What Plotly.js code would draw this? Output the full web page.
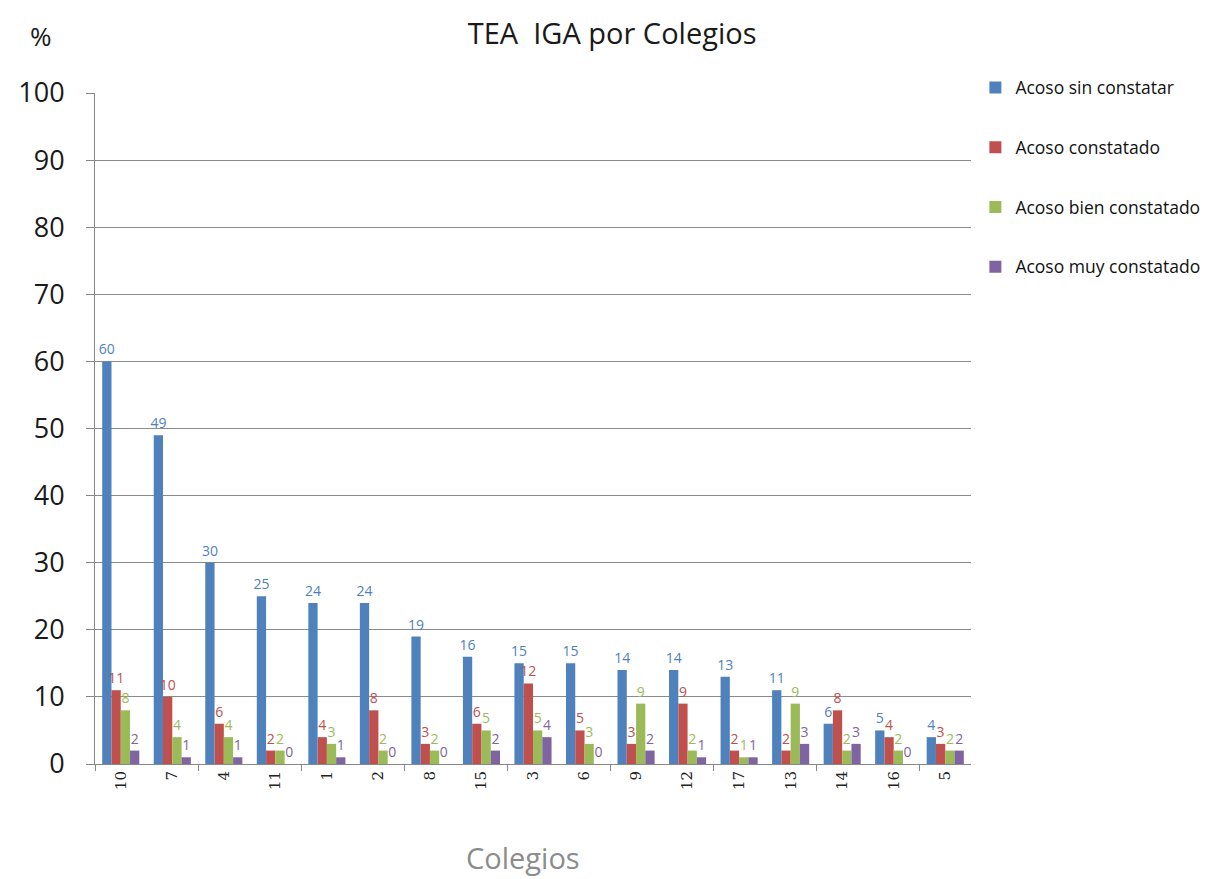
<!DOCTYPE html>
<html>
<head>
<meta charset="utf-8">
<script src="https://cdn.plot.ly/plotly-3.0.1.min.js"></script>
<style>
  html, body { margin: 0; padding: 0; background: #ffffff; }
  #chart { width: 1217px; height: 879px; }
</style>
</head>
<body>
<div id="chart"></div>
<script>
// Colegios, ordered by "Acoso sin constatar"
const colegios = ['10', '7', '4', '11', '1', '2', '8', '15', '3', '6', '9', '12', '17', '13', '14', '16', '5'];

const sinConstatar  = [60, 49, 30, 25, 24, 24, 19, 16, 15, 15, 14, 14, 13, 11, 6, 5, 4];
const constatado    = [11, 10, 6, 2, 4, 8, 3, 6, 12, 5, 3, 9, 2, 2, 8, 4, 3];
const bienConstat   = [8, 4, 4, 2, 3, 2, 2, 5, 5, 3, 9, 2, 1, 9, 2, 2, 2];
const muyConstat    = [2, 1, 1, 0, 1, 0, 0, 2, 4, 0, 2, 1, 1, 3, 3, 0, 2];

const seriesNames  = ['Acoso sin constatar', 'Acoso constatado', 'Acoso bien constatado', 'Acoso muy constatado'];
const seriesValues = [sinConstatar, constatado, bienConstat, muyConstat];
const seriesColors = ['#4F81BD', '#C0504D', '#9BBB59', '#8064A2'];

const baseFont = '"Open Sans", Lato, sans-serif';

const traces = seriesValues.map((vals, i) => ({
  type: 'bar',
  name: seriesNames[i],
  legendgroup: 'g' + i,
  x: colegios,
  y: vals,
  marker: { color: seriesColors[i] },
  text: vals.map(String),
  textposition: 'outside',
  textfont: { family: baseFont, size: 14, color: seriesColors[i] },
  cliponaxis: false,
  hoverinfo: 'x+y+name'
}));

// invisible helper trace so the overlay axis exists (tick marks every two colegios)
traces.push({
  type: 'scatter',
  x: [-0.5, colegios.length - 0.5],
  y: [0, 0],
  xaxis: 'x2',
  mode: 'markers',
  marker: { opacity: 0 },
  showlegend: false,
  hoverinfo: 'skip'
});

const layout = {
  width: 1217,
  height: 879,
  paper_bgcolor: '#ffffff',
  plot_bgcolor: '#ffffff',
  margin: { l: 95, r: 242, t: 93, b: 115 },
  font: { family: baseFont, color: '#222222' },
  uniformtext: { mode: 'show', minsize: 14 },
  title: {
    text: 'TEA  IGA por Colegios',
    font: { family: baseFont, size: 29, color: '#1a1a1a' },
    x: 0.503,
    xanchor: 'center',
    y: 0.962,
    yanchor: 'middle'
  },
  barmode: 'group',
  bargap: 0.28,
  bargroupgap: 0,
  showlegend: true,
  legend: {
    x: 1.005,
    xanchor: 'left',
    y: 1.035,
    yanchor: 'top',
    traceorder: 'grouped',
    tracegroupgap: 34,
    font: { family: baseFont, size: 17.5, color: '#111111' },
    itemwidth: 30,
    bgcolor: 'rgba(0,0,0,0)'
  },
  xaxis: {
    type: 'category',
    tickangle: -90,
    tickfont: { family: '"DejaVu Serif", serif', size: 15, color: '#222222' },
    ticks: '',
    showline: true,
    linecolor: '#888888',
    linewidth: 1,
    showgrid: false
  },
  xaxis2: {
    overlaying: 'x',
    anchor: 'y',
    side: 'bottom',
    range: [-0.5, colegios.length - 0.5],
    tick0: -0.5,
    dtick: 2,
    ticks: 'outside',
    ticklen: 6,
    tickcolor: '#888888',
    showticklabels: false,
    showgrid: false,
    zeroline: false,
    showline: false
  },
  yaxis: {
    range: [0, 100],
    dtick: 10,
    showgrid: true,
    gridcolor: '#8a8a8a',
    gridwidth: 1,
    zeroline: false,
    showline: true,
    linecolor: '#888888',
    linewidth: 1,
    ticks: 'outside',
    ticklen: 8,
    tickcolor: '#888888',
    ticklabelstandoff: 16,
    tickfont: { family: baseFont, size: 27, color: '#1a1a1a' }
  },
  annotations: [
    {
      text: '%',
      xref: 'paper', yref: 'paper',
      x: -0.062, y: 1.085,
      xanchor: 'center', yanchor: 'middle',
      showarrow: false,
      font: { family: baseFont, size: 26, color: '#1a1a1a' }
    },
    {
      text: 'Colegios',
      xref: 'paper', yref: 'paper',
      x: 0.4886, y: -0.14,
      xanchor: 'center', yanchor: 'middle',
      showarrow: false,
      font: { family: baseFont, size: 29, color: '#8c8c8c' }
    }
  ]
};

Plotly.newPlot('chart', traces, layout, { displayModeBar: false, staticPlot: true });
</script>
</body>
</html>
